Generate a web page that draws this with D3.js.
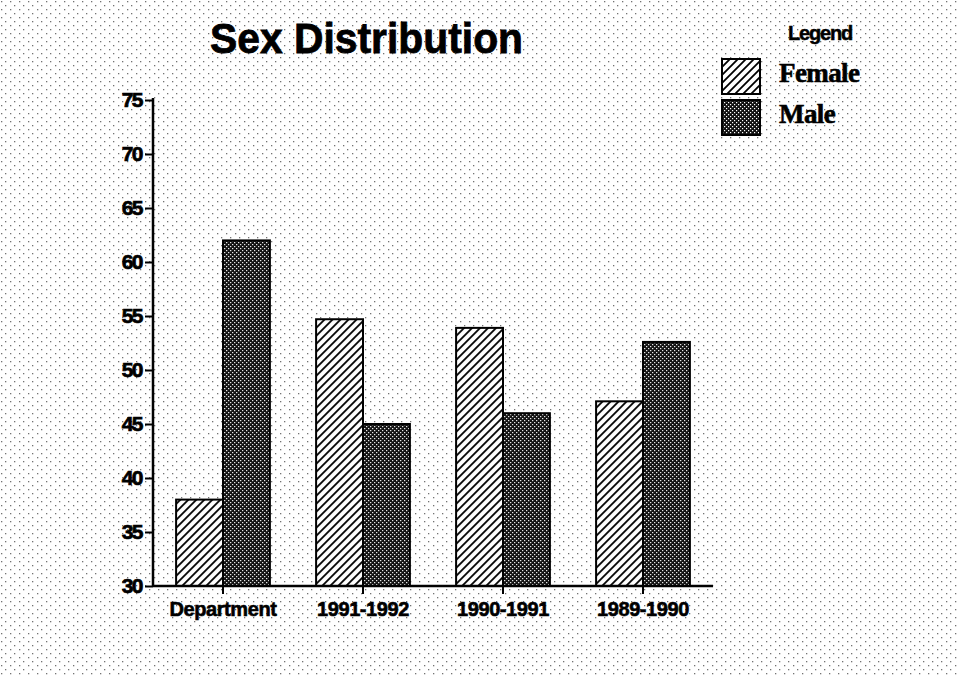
<!DOCTYPE html>
<html>
<head>
<meta charset="utf-8">
<script src="https://cdn.jsdelivr.net/npm/d3@7"></script>
<style>
  body { margin: 0; background: #fff; }
  svg { display: block; }
</style>
</head>
<body>
<div id="chart"></div>
<script>
// values
var categories = ["Department", "1991-1992", "1990-1991", "1989-1990"];
var female = [38, 54.7, 53.9, 47.1];
var male = [62, 45, 46, 52.6];
var yTicks = [30, 35, 40, 45, 50, 55, 60, 65, 70, 75];
var seriesNames = ["Female", "Male"];

var width = 959;
var height = 676;

var svg = d3.select("#chart").append("svg")
  .attr("width", width)
  .attr("height", height);

var defs = svg.append("defs");

// faint scan speckle behind everything
var bg = defs.append("pattern")
  .attr("id", "speckle")
  .attr("width", 9).attr("height", 8)
  .attr("patternUnits", "userSpaceOnUse");
bg.append("rect").attr("x", 1).attr("y", 1).attr("width", 1.3).attr("height", 1.3).attr("fill", "#000");
bg.append("rect").attr("x", 5).attr("y", 5).attr("width", 1.3).attr("height", 1.3).attr("fill", "#000");

var hatch = defs.append("pattern")
  .attr("id", "hatch")
  .attr("width", 8).attr("height", 8)
  .attr("patternUnits", "userSpaceOnUse");
hatch.append("rect").attr("width", 8).attr("height", 8).attr("fill", "#fff");
hatch.append("path")
  .attr("d", "M-2,2 L2,-2 M0,8 L8,0 M6,10 L10,6")
  .attr("stroke", "#000")
  .attr("stroke-width", 1.8);

var stipple = defs.append("pattern")
  .attr("id", "stipple")
  .attr("width", 4).attr("height", 4)
  .attr("patternUnits", "userSpaceOnUse");
stipple.append("rect").attr("width", 4).attr("height", 4).attr("fill", "#111");
stipple.append("rect").attr("x", 0).attr("y", 0).attr("width", 1.2).attr("height", 1.2).attr("fill", "#fff");
stipple.append("rect").attr("x", 2).attr("y", 2).attr("width", 1.2).attr("height", 1.2).attr("fill", "#fff");

svg.append("rect")
  .attr("width", width).attr("height", height)
  .attr("fill", "url(#speckle)")
  .attr("opacity", 0.55);

var x_axis = d3.scaleBand()
  .domain(categories)
  .range([153, 713])
  .paddingInner(0.33)
  .paddingOuter(0.165);

var inner = d3.scaleBand()
  .domain(seriesNames)
  .range([0, x_axis.bandwidth()]);

var y_axis = d3.scaleLinear().domain([30, 75]).range([586, 100]);

var fills = { Female: "url(#hatch)", Male: "url(#stipple)" };

var rows = categories.map(function(c, i) {
  return { cat: c, vals: [{ s: "Female", v: female[i] }, { s: "Male", v: male[i] }] };
});

var groups = svg.selectAll(".grp")
  .data(rows)
  .enter().append("g")
  .attr("transform", function(d) { return "translate(" + x_axis(d.cat) + ",0)"; });

groups.selectAll("rect")
  .data(function(d) { return d.vals; })
  .enter().append("rect")
  .attr("x", function(d) { return inner(d.s); })
  .attr("y", function(d) { return y_axis(d.v); })
  .attr("width", inner.bandwidth())
  .attr("height", function(d) { return y_axis(30) - y_axis(d.v); })
  .attr("fill", function(d) { return fills[d.s]; })
  .attr("stroke", "#000")
  .attr("stroke-width", 2);

// y axis
var yg = svg.append("g")
  .attr("transform", "translate(153,0)")
  .call(d3.axisLeft(y_axis).tickValues(yTicks).tickSize(8).tickPadding(3));
yg.select(".domain").attr("stroke-width", 2.5).attr("d", "M0,98V587");
yg.selectAll(".tick line").attr("stroke-width", 2);
yg.selectAll("text")
  .attr("font-family", "Liberation Sans, Arial, sans-serif")
  .attr("font-weight", "bold")
  .attr("font-size", 21)
  .attr("letter-spacing", -1.5)
  .attr("fill", "#000")
  .attr("stroke", "#000")
  .attr("stroke-width", 0.7);

// x axis, ticks sit between the female and male bars
var xg = svg.append("g")
  .attr("transform", "translate(0,586)");
xg.append("line")
  .attr("x1", 153).attr("x2", 713)
  .attr("stroke", "#000").attr("stroke-width", 2.5);
xg.selectAll(".xt")
  .data(categories)
  .enter().append("line")
  .attr("x1", function(d) { return x_axis(d) + x_axis.bandwidth() / 2; })
  .attr("x2", function(d) { return x_axis(d) + x_axis.bandwidth() / 2; })
  .attr("y1", 0).attr("y2", 8)
  .attr("stroke", "#000").attr("stroke-width", 2);
xg.selectAll(".xl")
  .data(categories)
  .enter().append("text")
  .attr("x", function(d) { return x_axis(d) + x_axis.bandwidth() / 2; })
  .attr("y", 30)
  .attr("text-anchor", "middle")
  .attr("font-family", "Liberation Sans, Arial, sans-serif")
  .attr("font-weight", "bold")
  .attr("font-size", 20)
  .attr("letter-spacing", -0.4)
  .attr("stroke", "#000")
  .attr("stroke-width", 0.6)
  .text(function(d) { return d; });

// title
svg.append("text")
  .attr("x", 210)
  .attr("y", 53)
  .attr("font-family", "Liberation Sans, Arial, sans-serif")
  .attr("font-weight", "bold")
  .attr("font-size", 43)
  .attr("textLength", 313)
  .attr("lengthAdjust", "spacingAndGlyphs")
  .attr("stroke", "#000")
  .attr("stroke-width", 0.8)
  .text("Sex Distribution");

// legend
svg.append("text")
  .attr("x", 788)
  .attr("y", 40)
  .attr("font-family", "Liberation Sans, Arial, sans-serif")
  .attr("font-weight", "bold")
  .attr("font-size", 20)
  .attr("letter-spacing", -1.2)
  .attr("stroke", "#000")
  .attr("stroke-width", 0.5)
  .text("Legend");

var leg = svg.selectAll(".leg")
  .data(seriesNames)
  .enter().append("g")
  .attr("transform", function(d, i) { return "translate(722," + (59 + i * 41) + ")"; });
leg.append("rect")
  .attr("width", 38).attr("height", 35)
  .attr("fill", function(d) { return fills[d]; })
  .attr("stroke", "#000").attr("stroke-width", 2);
leg.append("text")
  .attr("x", 57)
  .attr("y", 23)
  .attr("font-family", "Liberation Serif, Times New Roman, serif")
  .attr("font-weight", "bold")
  .attr("font-size", 27)
  .attr("letter-spacing", -0.6)
  .attr("stroke", "#000")
  .attr("stroke-width", 0.6)
  .text(function(d) { return d; });
</script>
</body>
</html>
